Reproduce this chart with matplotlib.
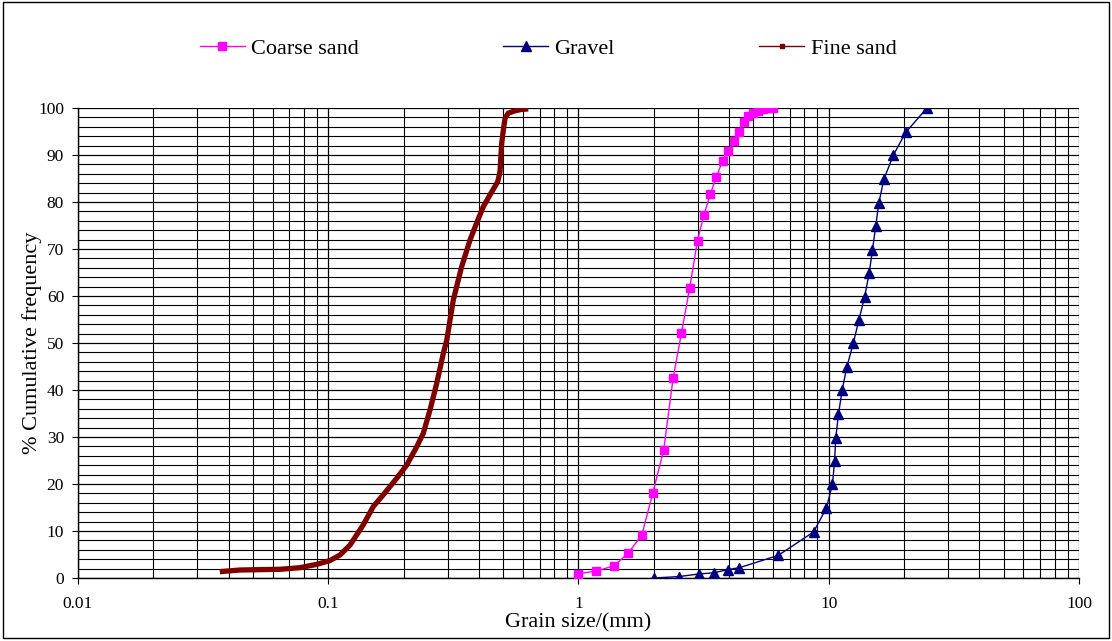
import matplotlib
matplotlib.use("Agg")
import matplotlib.pyplot as plt
from matplotlib.lines import Line2D
from matplotlib.patches import Rectangle
from matplotlib.ticker import LogLocator, MultipleLocator, FixedLocator

plt.rcParams['font.family'] = ['Liberation Serif', 'DejaVu Serif']

# ---- data ----
coarse_x = [1.0, 1.18, 1.39, 1.58, 1.79, 1.98, 2.19, 2.39, 2.58, 2.78, 2.99, 3.17,
            3.36, 3.56, 3.77, 3.95, 4.19, 4.37, 4.58, 4.78, 4.97, 5.21, 5.45, 5.71, 5.97]
coarse_y = [0.9, 1.5, 2.6, 5.3, 9.1, 18.0, 27.2, 42.6, 52.1, 61.6, 71.8, 77.2,
            81.6, 85.4, 88.8, 90.9, 92.9, 95.0, 97.0, 98.4, 99.0, 99.4, 99.7, 99.9, 100.0]

gravel_x = [2.0, 2.52, 3.02, 3.47, 3.97, 4.40, 6.28, 8.7, 9.77, 10.35, 10.55, 10.67,
            10.94, 11.32, 11.8, 12.53, 13.2, 13.9, 14.5, 14.96, 15.4, 15.85, 16.6, 18.1, 20.3, 24.6]
gravel_y = [0.0, 0.3, 0.85, 1.1, 1.8, 2.2, 4.8, 9.8, 14.8, 19.9, 24.8, 29.8,
            34.9, 40.0, 44.8, 49.9, 54.9, 59.7, 64.8, 69.8, 74.8, 79.7, 84.8, 89.9, 94.8, 99.9]

fine_x = [0.0369, 0.0444, 0.0642, 0.0772, 0.090, 0.1016, 0.1115, 0.1222, 0.138, 0.1514,
          0.166, 0.1877, 0.2058, 0.2257, 0.2399, 0.255, 0.2713, 0.2884, 0.2977, 0.3160,
          0.3412, 0.3686, 0.3917, 0.4166, 0.4428, 0.4755, 0.4858, 0.4934, 0.501, 0.5087,
          0.524, 0.5572, 0.5928, 0.630]
fine_y = [1.35, 1.7, 1.85, 2.2, 2.9, 3.7, 4.9, 7.0, 11.3, 15.2,
          17.7, 21.2, 24.0, 27.9, 30.8, 35.7, 41.4, 47.8, 50.6, 59.1,
          66.2, 71.9, 75.5, 79.0, 81.5, 84.3, 86.4, 92.5, 95.3, 97.8,
          98.9, 99.4, 99.7, 99.8]

series_names = ["Coarse sand", "Gravel", "Fine sand"]
x_ticks = [0.01, 0.1, 1, 10, 100]
x_ticklabels = ["0.01", "0.1", "1", "10", "100"]

C_COARSE = "#FF00FF"
C_GRAVEL = "#000080"
C_FINE = "#800000"

fig = plt.figure(figsize=(11.12, 6.41), dpi=100)
ax = fig.add_axes([0.0701, 0.0983, 0.9002, 0.7332])

ax.set_xscale('log')
ax.set_xlim(0.01, 100)
ax.set_ylim(0, 100)

# grid
ax.xaxis.set_major_locator(FixedLocator(x_ticks))
ax.xaxis.set_minor_locator(LogLocator(base=10, subs=range(2, 10), numticks=20))
ax.yaxis.set_major_locator(MultipleLocator(10))
ax.yaxis.set_minor_locator(MultipleLocator(2))
ax.grid(True, which='major', color='#000000', lw=0.9, zorder=0)
ax.grid(True, which='minor', color='#000000', lw=0.8, zorder=0)
ax.set_axisbelow(True)

ax.set_xticks(x_ticks)
ax.set_xticklabels(x_ticklabels)
ax.tick_params(axis='both', which='major', direction='out', length=4, width=0.8,
               labelsize=12.5, color='black')
ax.tick_params(axis='both', which='minor', length=0)
ax.tick_params(axis='x', pad=9)
ax.tick_params(axis='y', pad=6)

for s in ['top', 'right']:
    ax.spines[s].set_visible(False)
for s in ['left', 'bottom']:
    ax.spines[s].set_color('black')
    ax.spines[s].set_linewidth(1.0)

# series
ax.plot(fine_x, fine_y, color=C_FINE, lw=3.8, solid_capstyle='butt', zorder=3)
ax.plot(coarse_x, coarse_y, color=C_COARSE, lw=1.0, marker='s', ms=6,
        mfc=C_COARSE, mec=C_COARSE, zorder=4)
ax.plot(gravel_x, gravel_y, color=C_GRAVEL, lw=1.0, marker='^', ms=7.5,
        mfc=C_GRAVEL, mec=C_GRAVEL, zorder=4)

ax.set_xlabel("Grain size/(mm)", fontsize=16, labelpad=1)
ax.set_ylabel("% Cumulative frequency", fontsize=16, labelpad=-3)

handles = [
    Line2D([], [], color=C_COARSE, lw=1.0, marker='s', ms=6),
    Line2D([], [], color=C_GRAVEL, lw=1.0, marker='^', ms=7.5),
    Line2D([], [], color=C_FINE, lw=1.0, marker='s', ms=2.5),
]
fig.legend(handles, series_names, loc='center', bbox_to_anchor=(0.493, 0.9236),
           ncol=3, frameon=False, fontsize=16, handlelength=2.0,
           handletextpad=0.3, columnspacing=6.5)

fig.patches.append(Rectangle((0.003, 0.004), 0.994, 0.993, transform=fig.transFigure,
                             fill=False, edgecolor='black', lw=1.0))

fig.savefig("out.png", dpi=100)
